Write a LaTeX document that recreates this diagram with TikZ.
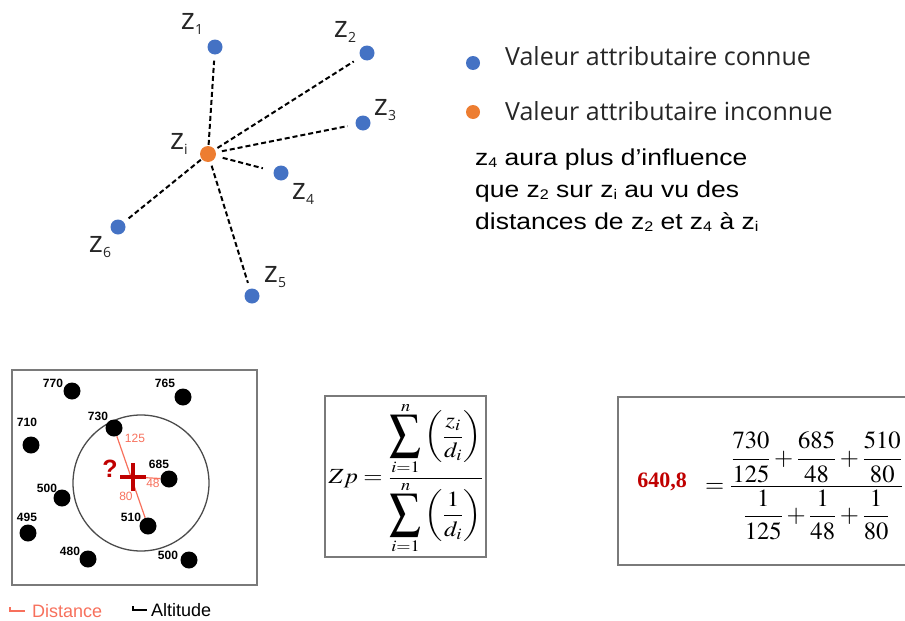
\documentclass[tikz,border=0pt]{standalone}
\usepackage{amsmath}
\usepackage{graphicx}
\usepackage{mathptmx}
\usepackage[no-math]{fontspec}
\newfontfamily\segoe{Open Sans}
\newfontfamily\arial{Liberation Sans}
\newfontfamily\tnr{Liberation Serif}
\definecolor{zblue}{HTML}{4472C4}
\definecolor{zorange}{HTML}{ED7D31}
\definecolor{crossred}{HTML}{C00000}
\definecolor{distred}{HTML}{F7705C}
\definecolor{framegray}{HTML}{7A7A7A}
\definecolor{legtext}{HTML}{262626}
\newcommand{\zlab}[1]{{\fontsize{30}{30}\selectfont z}\raisebox{-5pt}{\fontsize{14}{14}\selectfont #1}}
\newcommand{\psub}[1]{\raisebox{-2pt}{\fontsize{14}{14}\selectfont #1}}
\newcommand{\pline}[1]{\scalebox{1.15}[1]{#1}}
\newcommand{\bigsum}{\mathop{\vcenter{\hbox{\scalebox{1.25}[1.6]{$\displaystyle\sum$}}}}\limits}
\tikzset{
  bdot/.style={circle,fill=zblue,inner sep=0pt,minimum size=15pt},
  odot/.style={circle,fill=zorange,inner sep=0pt,minimum size=16pt},
  kdot/.style={circle,fill=black,inner sep=0pt,minimum size=17pt},
  zlabel/.style={inner sep=0pt,font=\segoe,text=legtext},
  dashline/.style={line width=2pt,dash pattern=on 5pt off 3pt},
  framebox/.style={draw=framegray,line width=1.6pt},
  alt/.style={inner sep=0pt,font=\arial\bfseries\fontsize{12}{12}\selectfont},
  dist/.style={inner sep=0pt,text=distred,font=\arial\fontsize{12}{12}\selectfont},
  distline/.style={draw=distred,line width=1.2pt},
  legtxt/.style={anchor=base west,inner sep=0pt,font=\segoe\fontsize{25}{25}\selectfont,text=legtext},
  paratxt/.style={anchor=base west,inner sep=0pt,font=\arial\fontsize{23}{23}\selectfont},
}
\begin{document}
\begin{tikzpicture}[x=1pt,y=-1pt]
\useasboundingbox (0,0) rectangle (905,621);
% ---------- top diagram ----------
\node[bdot] (z1) at (215,47) {};
\node[bdot] (z2) at (367,53) {};
\node[bdot] (z3) at (363,123) {};
\node[bdot] (z4) at (281,173) {};
\node[bdot] (z5) at (252,296) {};
\node[bdot] (z6) at (118,227) {};
\node[odot] (zi) at (208,154) {};
\node[zlabel] (lz1) at (192,24) {\zlab{1}};
\node[zlabel] (lz2) at (345,32) {\zlab{2}};
\node[zlabel] (lz3) at (385,110) {\zlab{3}};
\node[zlabel] (lzi) at (179,144) {\zlab{i}};
\node[zlabel] (lz4) at (303,194) {\zlab{4}};
\node[zlabel] (lz5) at (275,277) {\zlab{5}};
\node[zlabel] (lz6) at (100,247) {\zlab{6}};
\draw[dashline,shorten <=1pt,shorten >=6pt] (zi) -- (z1);
\draw[dashline,shorten <=3pt,shorten >=8pt] (zi) -- (z2);
\draw[dashline,shorten <=6pt,shorten >=8pt] (zi) -- (z3);
\draw[dashline,shorten <=7pt,shorten >=11pt] (zi) -- (z4);
\draw[dashline,shorten <=4pt,shorten >=6pt] (zi) -- (z5);
\draw[dashline,shorten <=1pt,shorten >=5pt] (zi) -- (z6);
% legend
\node[circle,fill=zblue,inner sep=0pt,minimum size=14pt] (lgb) at (473,63) {};
\node[circle,fill=zorange,inner sep=0pt,minimum size=14pt] (lgo) at (473,112) {};
\node[legtxt] (lgbt) at (505,65) {Valeur attributaire connue};
\node[legtxt] (lgot) at (505,120) {Valeur attributaire inconnue};
\node[paratxt] (p1) at (475,165) {\pline{z\psub{4} aura plus d’influence}};
\node[paratxt] (p2) at (475,197) {\pline{que z\psub{2} sur z\psub{i} au vu des}};
\node[paratxt] (p3) at (475,229) {\pline{distances de z\psub{2} et z\psub{4} à z\psub{i}}};
% ---------- bottom left ----------
\draw[framebox] (12,370) rectangle (257,585);
\draw[black!70,line width=1.3pt] (141,483) circle (68);
\node[kdot] (a770) at (72,391) {};
\node[kdot] (a765) at (183,397) {};
\node[kdot] (a730) at (114,428) {};
\node[kdot] (a710) at (31,445) {};
\node[kdot] (a685) at (169,479) {};
\node[kdot] (a500l) at (62,498) {};
\node[kdot] (a495) at (28,533) {};
\node[kdot] (a510) at (148,526) {};
\node[kdot] (a480) at (88,559) {};
\node[kdot] (a500r) at (189,560) {};
\node[alt] (t770) at (53,383) {770};
\node[alt] (t765) at (165,383) {765};
\node[alt] (t710) at (27,422) {710};
\node[alt] (t730) at (98,416) {730};
\node[alt] (t685) at (159,464) {685};
\node[alt] (t500l) at (47,488) {500};
\node[alt] (t495) at (27,517) {495};
\node[alt] (t510) at (131,517) {510};
\node[alt] (t480) at (70,551) {480};
\node[alt] (t500r) at (168,555) {500};
\coordinate (cross) at (133,477);
\draw[distline] (a730) -- (a510);
\draw[distline] (cross) -- (a685);
\draw[crossred,line width=3.5pt] ([xshift=-13pt]cross) -- ([xshift=13pt]cross);
\draw[crossred,line width=3.5pt] ([yshift=-14pt]cross) -- ([yshift=14pt]cross);
\node[inner sep=0pt,text=crossred,font=\arial\bfseries\fontsize{25}{25}\selectfont] (q) at (110,469) {?};
\node[dist] (d125) at (135,438) {125};
\node[dist] (d48) at (153,483) {48};
\node[dist] (d80) at (126,496) {80};
% legend below
\draw[distred,line width=2.8pt] (10,607) -- (10,611) -- (25,611);
\node[anchor=west,inner sep=0pt,text=distred,font=\arial\fontsize{18}{18}\selectfont] (ldist) at (32,611) {Distance};
\draw[black,line width=2.8pt] (133,606) -- (133,610) -- (147,610);
\node[anchor=west,inner sep=0pt,font=\arial\fontsize{18}{18}\selectfont] (lalt) at (151,610) {Altitude};
% ---------- middle formula ----------
\draw[framebox] (325,396) rectangle (486,557);
\node[inner sep=0pt,font=\fontsize{20}{24}\selectfont] (f1) at (406,478)
 {\scalebox{1.24}[1.08]{$\displaystyle Zp=\frac{\bigsum_{i=1}^{n}\left(\dfrac{z_i}{d_i}\right)}{\bigsum_{i=1}^{n}\left(\dfrac{1}{d_i}\right)}$}};
% ---------- right formula ----------
\draw[framebox] (618,397) rectangle (915,565);
\node[inner sep=0pt,text=crossred,font=\tnr\bfseries\fontsize{22}{22}\selectfont] (res) at (662,482) {640,8};
\node[anchor=west,inner sep=0pt,font=\fontsize{22}{26}\selectfont] (f2) at (705,486)
 {\scalebox{1.12}{$\displaystyle =\frac{\dfrac{730}{125}+\dfrac{685}{48}+\dfrac{510}{80}}{\dfrac{1}{125}+\dfrac{1}{48}+\dfrac{1}{80}}$}};
\end{tikzpicture}
\end{document}
